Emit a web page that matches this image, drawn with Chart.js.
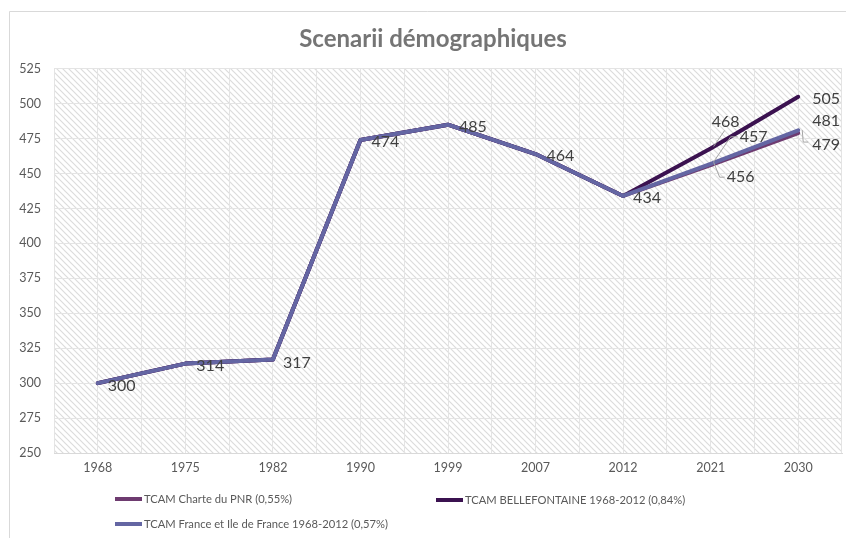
<!DOCTYPE html>
<html><head><meta charset="utf-8">
<script src="https://cdn.jsdelivr.net/npm/chart.js@4/dist/chart.umd.min.js"></script>
<style>
html,body{margin:0;padding:0;background:#fff;}
#wrap{position:relative;width:846px;height:538px;overflow:hidden;}
#legend{position:absolute;left:0;top:0;width:846px;height:538px;pointer-events:none;font-family:Lato,"Open Sans",sans-serif;font-size:11.2px;color:#595959;}
.li{position:absolute;display:flex;align-items:center;white-space:nowrap;height:16px;line-height:16px;}
.li .sw{display:inline-block;width:27px;height:4px;margin-right:2px;}
</style></head><body>
<div id="wrap"><canvas id="c" width="846" height="538"></canvas><div id="legend"></div></div>
<script>
// ---- data ----
const years = ['1968','1975','1982','1990','1999','2007','2012','2021','2030'];
const pnr = [300,314,317,474,485,464,434,456,479];
const bellefontaine = [300,314,317,474,485,464,434,468,505];
const franceIdf = [300,314,317,474,485,464,434,457,481];
const seriesNames = ['TCAM Charte du PNR (0,55%)','TCAM BELLEFONTAINE 1968-2012 (0,84%)','TCAM France et Ile de France 1968-2012 (0,57%)'];
const yTicks = [250,275,300,325,350,375,400,425,450,475,500,525];
const chartTitle = 'Scenarii démographiques';

// ---- styles ----
const colors = ['#6E3B70','#3B1250','#6466A3'];
const FONT = 'Lato, "Open Sans", sans-serif';

function makeHatch(){
  const s = 6, c = document.createElement('canvas');
  c.width = s; c.height = s;
  const g = c.getContext('2d');
  g.fillStyle = '#ffffff'; g.fillRect(0,0,s,s);
  g.strokeStyle = '#dcdcdc'; g.lineWidth = 1.2;
  for (const off of [-s,0,s]) {
    g.beginPath(); g.moveTo(off-1,-1); g.lineTo(off+s+1,s+1); g.stroke();
  }
  return c;
}

const bgPlugin = {
  id:'bgPlugin',
  afterLayout(chart){
    if (chart.titleBlock) { chart.titleBlock.left = 24; }
  },
  beforeDraw(chart){
    const {ctx, chartArea:a} = chart;
    ctx.save();
    ctx.fillStyle = '#fff'; ctx.fillRect(0,0,chart.width,chart.height);
    ctx.strokeStyle = '#d9d9d9'; ctx.lineWidth = 1;
    ctx.beginPath(); ctx.moveTo(9.5,538); ctx.lineTo(9.5,11.5); ctx.lineTo(846,11.5); ctx.stroke();
    ctx.fillStyle = ctx.createPattern(makeHatch(),'repeat');
    ctx.fillRect(a.left, a.top, a.right - a.left, a.bottom - a.top);
    ctx.restore();
  }
};

const valueLabels = {
  id:'valueLabels',
  afterDatasetsDraw(chart, args, opts){
    const ctx = chart.ctx;
    ctx.save();
    ctx.font = opts.font; ctx.fillStyle = opts.color;
    ctx.textBaseline = 'middle'; ctx.textAlign = 'left';
    opts.items.forEach(it => {
      const el = chart.getDatasetMeta(it.ds).data[it.i];
      const v = chart.data.datasets[it.ds].data[it.i];
      const x = el.x, y = el.y;
      if (it.leader) {
        ctx.beginPath(); ctx.strokeStyle = opts.leaderColor; ctx.lineWidth = 1;
        it.leader.forEach((p,k) => k ? ctx.lineTo(x+p[0], y+p[1]) : ctx.moveTo(x+p[0], y+p[1]));
        ctx.stroke();
      }
      ctx.fillText(String(v), x + it.dx, y + it.dy);
    });
    ctx.restore();
  }
};

const labelItems = [
  {ds:2,i:0,dx:10,dy:3},{ds:2,i:1,dx:11,dy:2},{ds:2,i:2,dx:10,dy:3},
  {ds:2,i:3,dx:11,dy:2},{ds:2,i:4,dx:11,dy:2},{ds:2,i:5,dx:11,dy:2},
  {ds:2,i:6,dx:10,dy:2},
  {ds:1,i:7,dx:1,dy:-27,leader:[[14,-18],[3,-2]]},
  {ds:2,i:7,dx:29,dy:-27,leader:[[27,-27],[20,-27],[3,-2]]},
  {ds:0,i:7,dx:16,dy:12,leader:[[3,-3],[9,12],[14,12]]},
  {ds:1,i:8,dx:14,dy:2},
  {ds:2,i:8,dx:14,dy:-9},
  {ds:0,i:8,dx:14,dy:12,leader:[[4,-3],[5,9],[10,9]]}
];

const seriesData = [pnr, bellefontaine, franceIdf];
const orders = [2,1,0];
const datasets = seriesData.map((d,k) => ({
  label: seriesNames[k], data: d, borderColor: colors[k], backgroundColor: colors[k],
  borderWidth: 4, pointRadius: 0, pointHoverRadius: 0, tension: 0,
  borderJoinStyle: 'round', borderCapStyle: 'round', order: orders[k], fill: false
}));

new Chart(document.getElementById('c'), {
  type: 'line',
  data: { labels: years, datasets },
  options: {
    responsive: false, animation: false,
    layout: { padding: { left: 0, right: 4, top: 20, bottom: 63 } },
    plugins: {
      legend: { display: false },
      tooltip: { enabled: false },
      title: { display: true, text: chartTitle, color: '#757575',
        font: { family: FONT, size: 24, weight: 'bold' }, padding: { top: 5, bottom: 15 } },
      valueLabels: { font: '16px ' + FONT, color: '#404040', leaderColor: '#a6a6a6', items: labelItems }
    },
    scales: {
      x: {
        type: 'category', offset: true, position: 'bottom',
        grid: { offset: false, color: '#e4e4e4', drawTicks: false },
        border: { display: true, color: '#d9d9d9' },
        ticks: { color: '#595959', font: { family: FONT, size: 12.5 }, padding: 7, maxRotation: 0 },
        afterFit(s){ s.height = 22; }
      },
      x2: {
        type: 'category', labels: years, offset: true, position: 'bottom',
        grid: { offset: true, color: '#e4e4e4', drawTicks: false },
        border: { display: false },
        ticks: { display: false },
        afterFit(s){ s.height = 0; }
      },
      y: {
        min: 250, max: 525,
        grid: { color: '#e4e4e4', drawTicks: false },
        border: { display: false },
        ticks: { color: '#595959', font: { family: FONT, size: 12.5 }, padding: 13 },
        afterBuildTicks(s){ s.ticks = yTicks.map(v => ({ value: v })); },
        afterFit(s){ s.width = 54; }
      }
    }
  },
  plugins: [bgPlugin, valueLabels]
});

// HTML legend
const legendPos = [[115,491],[436,492],[115,516]];
const lg = document.getElementById('legend');
seriesNames.forEach((n,k) => {
  const d = document.createElement('div');
  d.className = 'li';
  d.style.left = legendPos[k][0] + 'px'; d.style.top = legendPos[k][1] + 'px';
  const sw = document.createElement('span'); sw.className = 'sw'; sw.style.background = colors[k];
  const t = document.createElement('span'); t.textContent = n;
  d.appendChild(sw); d.appendChild(t); lg.appendChild(d);
});
</script>
</body></html>
